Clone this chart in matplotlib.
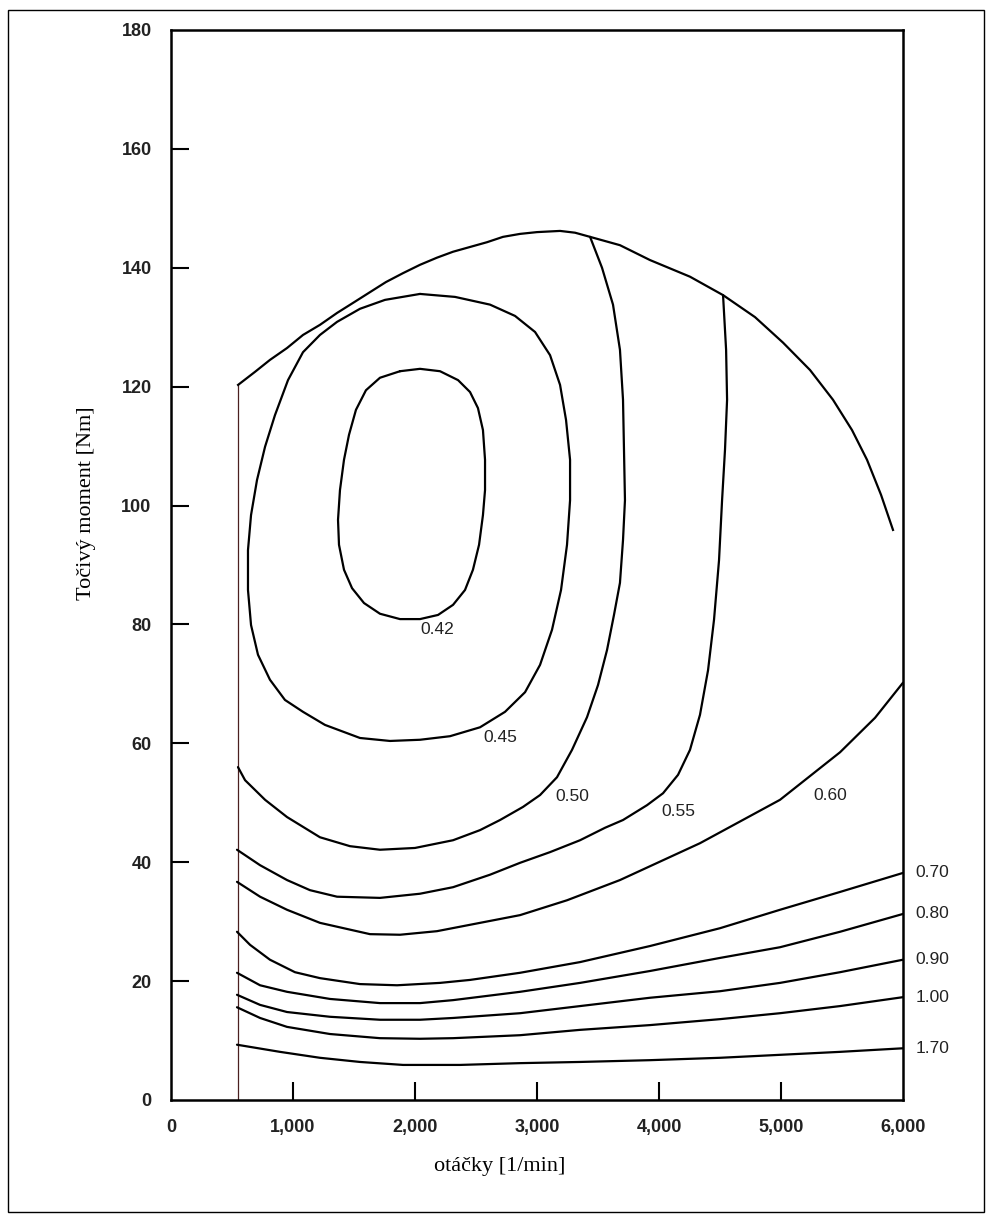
import matplotlib
matplotlib.use("Agg")
import matplotlib.pyplot as plt
from matplotlib.patches import Rectangle

# Kennfeld: otáčky [1/min] vs. Točivý moment [Nm]

# Volllastkurve (obere Grenze) + senkrechte Linie bei Leerlauf
limit_x = [550, 689, 811, 951, 1082, 1221, 1361, 1508, 1631, 1762, 1902, 2041,
           2180, 2312, 2451, 2590, 2721, 2861, 3000, 3189, 3312, 3435, 3680, 3926,
           4254, 4525, 4787, 5017, 5238, 5426, 5582, 5705, 5820, 5918]
limit_y = [120.3, 122.5, 124.5, 126.5, 128.7, 130.4, 132.4, 134.3, 135.9, 137.6,
           139.1, 140.5, 141.7, 142.7, 143.5, 144.3, 145.2, 145.7, 146.0, 146.2,
           145.9, 145.2, 143.8, 141.3, 138.5, 135.4, 131.7, 127.4, 122.8, 117.8,
           112.7, 107.7, 101.8, 95.9]
idle_x = [550, 550]
idle_y = [0, 120.3]

# Isolinien
c042_x = [1877, 2041, 2205, 2353, 2451, 2516, 2557, 2574, 2574, 2557, 2525, 2475,
          2410, 2312, 2189, 2041, 1877, 1713, 1582, 1484, 1418, 1377, 1369, 1385,
          1418, 1459, 1516, 1598, 1713, 1877]
c042_y = [122.6, 123.0, 122.6, 121.1, 119.1, 116.4, 112.7, 107.7, 102.6, 98.4,
          93.4, 89.2, 85.8, 83.3, 81.6, 80.9, 80.9, 81.8, 83.6, 86.1, 89.2, 93.4,
          97.6, 102.6, 107.7, 111.9, 116.1, 119.4, 121.5, 122.6]

c045_x = [2041, 2328, 2615, 2820, 2984, 3107, 3189, 3238, 3271, 3271, 3246, 3197,
          3123, 3025, 2902, 2738, 2533, 2287, 2041, 1795, 1549, 1262, 1082, 934,
          811, 713, 656, 631, 631, 656, 705, 771, 852, 959, 1082, 1221, 1361, 1549,
          1754, 2041]
c045_y = [135.6, 135.1, 133.8, 131.9, 129.2, 125.3, 120.3, 114.4, 107.7, 100.9,
          93.4, 85.8, 79.1, 73.2, 68.6, 65.3, 62.7, 61.2, 60.6, 60.4, 60.9, 63.1,
          65.3, 67.3, 70.7, 74.9, 79.9, 85.8, 92.5, 98.4, 104.3, 109.9, 115.2, 121.1,
          125.8, 128.7, 130.9, 133.1, 134.6, 135.6]

c050_x = [549, 607, 771, 951, 1221, 1467, 1713, 2000, 2312, 2533, 2697, 2885, 3025,
          3164, 3287, 3410, 3500, 3574, 3631, 3680, 3705, 3721, 3713, 3705, 3680,
          3623, 3533, 3435]
c050_y = [56.0, 53.8, 50.5, 47.6, 44.2, 42.7, 42.1, 42.4, 43.7, 45.4, 47.1, 49.3,
          51.3, 54.3, 58.9, 64.4, 69.8, 75.7, 81.6, 87.0, 94.2, 100.9, 109.4, 117.8,
          126.2, 133.8, 140.0, 145.2]

c055_x = [541, 730, 951, 1139, 1361, 1713, 2041, 2312, 2615, 2861, 3107, 3353,
          3558, 3705, 3902, 4033, 4156, 4254, 4336, 4402, 4451, 4492, 4517, 4541,
          4558, 4550, 4525]
c055_y = [42.1, 39.5, 37.0, 35.3, 34.2, 34.0, 34.7, 35.8, 37.9, 39.9, 41.7, 43.7,
          45.8, 47.1, 49.6, 51.6, 54.7, 58.9, 64.8, 72.3, 80.8, 90.8, 100.9, 109.4,
          117.8, 126.2, 135.4]

c060_x = [541, 730, 951, 1221, 1631, 1877, 2180, 2533, 2861, 3246, 3680, 4336,
          4992, 5484, 5771, 6000]
c060_y = [36.7, 34.2, 32.0, 29.8, 27.9, 27.8, 28.4, 29.8, 31.1, 33.6, 37.0, 43.2,
          50.5, 58.5, 64.3, 70.2]

c070_x = [541, 648, 811, 1016, 1221, 1549, 1853, 2205, 2451, 2861, 3353, 3926,
          4500, 4992, 5484, 6000]
c070_y = [28.3, 26.1, 23.6, 21.5, 20.5, 19.5, 19.3, 19.7, 20.2, 21.4, 23.2, 25.9,
          28.9, 32.0, 35.0, 38.2]

c080_x = [541, 730, 951, 1303, 1713, 2041, 2312, 2861, 3353, 3926, 4500, 4992,
          5484, 6000]
c080_y = [21.4, 19.3, 18.2, 17.0, 16.3, 16.3, 16.8, 18.2, 19.7, 21.7, 23.9, 25.7,
          28.3, 31.3]

c090_x = [541, 730, 951, 1303, 1713, 2041, 2312, 2861, 3353, 3926, 4500, 4992,
          5484, 6000]
c090_y = [17.7, 16.0, 14.8, 14.0, 13.5, 13.5, 13.8, 14.6, 15.8, 17.2, 18.3, 19.7,
          21.5, 23.6]

c100_x = [541, 730, 951, 1303, 1713, 2041, 2312, 2861, 3353, 3926, 4500, 4992,
          5484, 6000]
c100_y = [15.6, 13.8, 12.3, 11.1, 10.4, 10.3, 10.4, 10.9, 11.8, 12.6, 13.6, 14.6,
          15.8, 17.3]

c170_x = [541, 893, 1221, 1549, 1902, 2369, 2861, 3353, 3926, 4500, 4992, 5484,
          6000]
c170_y = [9.3, 8.1, 7.1, 6.4, 5.9, 5.9, 6.2, 6.4, 6.7, 7.1, 7.6, 8.1, 8.7]

# Beschriftungen innen
inner_labels = ["0.42", "0.45", "0.50", "0.55", "0.60"]
inner_x = [2180, 2697, 3287, 4156, 5402]
inner_y = [79.1, 60.9, 51.0, 48.5, 51.3]

# Beschriftungen am rechten Rand
edge_labels = ["0.70", "0.80", "0.90", "1.00", "1.70"]

x_ticks = [0, 1000, 2000, 3000, 4000, 5000, 6000]
x_tick_labels = ["0", "1,000", "2,000", "3,000", "4,000", "5,000", "6,000"]
y_ticks = [0, 20, 40, 60, 80, 100, 120, 140, 160, 180]

fig = plt.figure(figsize=(9.92, 12.21), dpi=100)
ax = fig.add_axes([171/992, 1 - 1100/1221, (903-171)/992, (1100-30)/1221])

lw = 1.6
ax.plot(idle_x, idle_y, color="#4a2020", lw=0.9)
ax.plot(limit_x, limit_y, color="black", lw=lw, solid_joinstyle="round")
curves = [(c042_x, c042_y), (c045_x, c045_y), (c050_x, c050_y), (c055_x, c055_y),
          (c060_x, c060_y), (c070_x, c070_y), (c080_x, c080_y), (c090_x, c090_y),
          (c100_x, c100_y), (c170_x, c170_y)]
for cx, cy in curves:
    ax.plot(cx, cy, color="black", lw=lw, solid_joinstyle="round",
            solid_capstyle="round")

lab_font = "Liberation Sans"
for t, x, y in zip(inner_labels, inner_x, inner_y):
    ax.text(x, y, t, ha="center", va="center", fontsize=12.5, family=lab_font,
            color="#222222")

edge_curves = [(c070_x, c070_y), (c080_x, c080_y), (c090_x, c090_y),
               (c100_x, c100_y), (c170_x, c170_y)]
for t, (cx, cy) in zip(edge_labels, edge_curves):
    ax.annotate(t, xy=(cx[-1], cy[-1]), xytext=(9, 0), textcoords="offset points",
                ha="left", va="center", fontsize=12.5, family=lab_font,
                color="#222222", annotation_clip=False)

ax.set_xlim(0, 6000)
ax.set_ylim(0, 180)
ax.set_xticks(x_ticks)
ax.set_xticklabels(x_tick_labels)
ax.set_yticks(y_ticks)
ax.tick_params(direction="in", length=13, width=1.5, labelsize=13, pad=14)
for lab in ax.get_xticklabels() + ax.get_yticklabels():
    lab.set_fontweight("bold")
    lab.set_family(lab_font)
    lab.set_color("#222222")
# keine Striche an den Ecken
for tk in (ax.xaxis.get_major_ticks()[0], ax.xaxis.get_major_ticks()[-1],
           ax.yaxis.get_major_ticks()[0], ax.yaxis.get_major_ticks()[-1]):
    tk.tick1line.set_visible(False)
for s in ax.spines.values():
    s.set_linewidth(1.8)

fig.text(500/992, 1 - 1167/1221, "otáčky [1/min]", ha="center", va="center",
         fontsize=16, family="Liberation Serif")
fig.text(87/992, 1 - 503/1221, "Točivý moment [Nm]", ha="center", va="center",
         rotation=90, fontsize=16, family="Liberation Serif")

fig.patches.append(Rectangle((8/992, 1 - 1212/1221), (984-8)/992, (1212-10)/1221,
                             transform=fig.transFigure, fill=False,
                             edgecolor="black", lw=1))

fig.savefig("out.png", dpi=100)
